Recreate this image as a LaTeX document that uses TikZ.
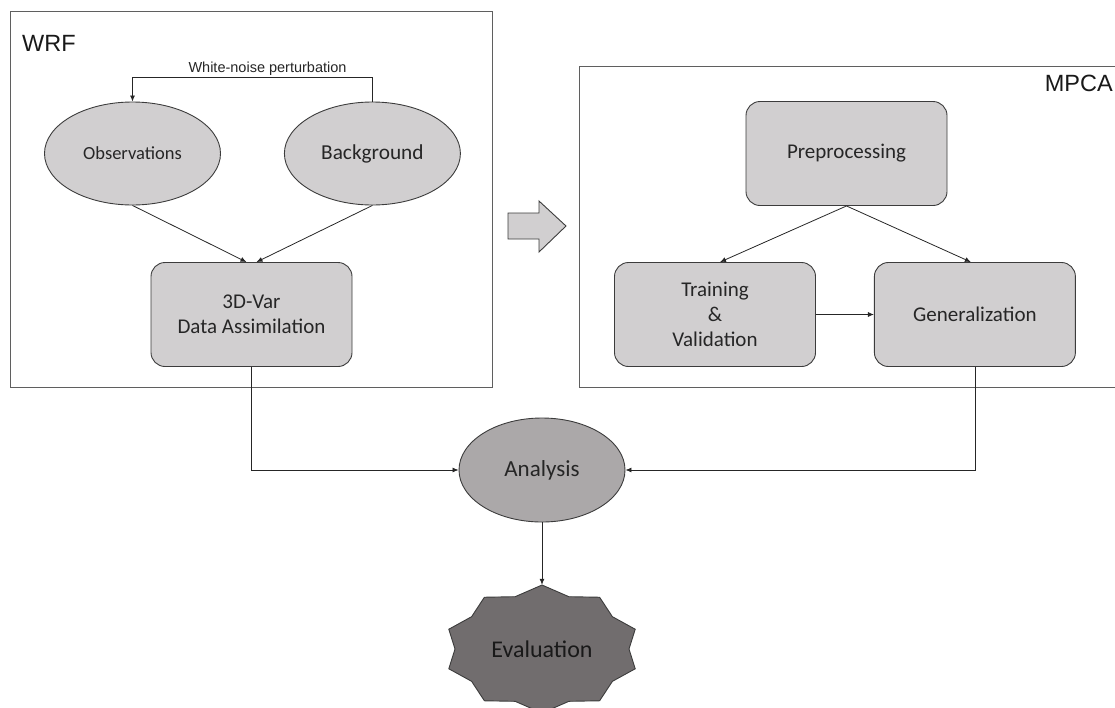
\documentclass[tikz,border=0pt]{standalone}
\usepackage{fontspec}
\setmainfont{Carlito}
\newfontfamily\headfont{Liberation Sans}
\usepackage{tikz}
\usetikzlibrary{arrows.meta,shapes.geometric,positioning}

\definecolor{boxgray}{RGB}{209,207,208}
\definecolor{anagray}{RGB}{171,168,169}
\definecolor{evalgray}{RGB}{113,109,110}
\definecolor{edgegray}{RGB}{60,60,60}
\definecolor{framegray}{RGB}{95,95,95}

\begin{document}
\begin{tikzpicture}[x=1pt, y=-1pt, >={Latex[length=6pt,width=5pt]},
	process/.style={draw=edgegray, fill=boxgray, rounded corners=14pt, minimum width=201pt, minimum height=104pt, align=center, text=black!85, line width=0.9pt, font=\fontsize{21}{25}\selectfont},
	source/.style={ellipse, draw=edgegray, fill=boxgray, minimum width=176pt, minimum height=103pt, text=black!85, line width=0.9pt},
	blockframe/.style={draw=framegray, line width=1pt},
	framelabel/.style={font=\headfont\fontsize{23.5}{28}\selectfont, inner sep=0pt, text=black!90},
	link/.style={draw=black!85, line width=0.8pt}]

	\useasboundingbox (0,0) rectangle (1115,707);
	\clip (0,0) rectangle (1115,707);

	% WRF part
	\draw[blockframe] (10,11) rectangle (492,387);
	\node[framelabel, anchor=west] (wrf) at (22,43.5) {WRF};

	\node[source, font=\fontsize{18.5}{22}\selectfont] (obs) at (132.5,153.5) {Observations};
	\node[source, font=\fontsize{21.3}{25}\selectfont, right=63pt of obs] (bg) {Background};
	\node[process] (var) at (251.5,314.5) {3D-Var\\Data Assimilation};

	\draw[link,->] (bg.north) -- ++(0,-24) -| (obs.north);
	\node[font=\headfont\fontsize{14.5}{17}\selectfont, anchor=base, inner sep=0pt, text=black!85] (pert) at (267.5,72) {White-noise perturbation};

	\draw[link,->] (obs.south) -- ([xshift=-5pt]var.north);
	\draw[link,->] (bg.south) -- ([xshift=5pt]var.north);

	% MPCA part
	\draw[blockframe] (579,66) rectangle (1130,387);
	\node[framelabel, anchor=east] (mpca) at (1113,83.5) {MPCA};

	\node[process] (prep) at (846.5,153.5) {Preprocessing};
	\node[process] (train) at (715,314.5) {Training\\\&\\Validation};
	\node[process, right=58pt of train] (gen) {Generalization};

	\draw[link,->] (prep.south) -- ([xshift=5pt]train.north);
	\draw[link,->] (prep.south) -- ([xshift=-4pt]gen.north);
	\draw[link,->] (train.east) -- (gen.west);

	% block arrow between the parts
	\draw[fill=boxgray, draw=edgegray, line width=0.9pt] (508,213) -- (539,213) -- (539,201) -- (566,226) -- (539,252) -- (539,239) -- (508,239) -- cycle;

	% results
	\node[source, fill=anagray, minimum width=166pt, minimum height=104pt, font=\fontsize{23}{27}\selectfont] (ana) at (542,470) {Analysis};
	\draw[link,->] (var.south) |- (ana.west);
	\draw[link,->] (gen.south) |- (ana.east);

	\draw[draw=edgegray, fill=evalgray, line width=0.9pt]
		plot[variable=\k, samples at={0,...,19}]
		({542+ifthenelse(mod(\k,2)==0,98,87)*cos(90+18*\k)}, {649+ifthenelse(mod(\k,2)==0,64,55)*sin(90+18*\k)}) -- cycle;
	\node[ellipse, minimum width=196pt, minimum height=128pt, inner sep=0pt, text=black!90, font=\fontsize{24}{28}\selectfont] (eval) at (542,649) {Evaluation};
	\draw[link,->] (ana.south) -- (eval.north);
\end{tikzpicture}
\end{document}
